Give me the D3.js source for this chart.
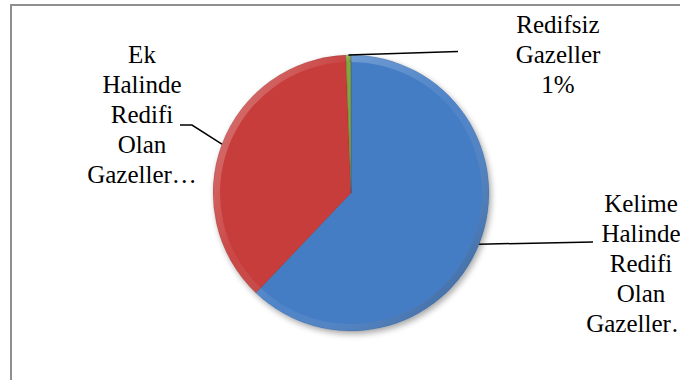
<!DOCTYPE html>
<html>
<head>
<meta charset="utf-8">
<script src="https://cdn.jsdelivr.net/npm/d3@7"></script>
<style>
  html, body { margin: 0; padding: 0; background: #fff; }
  svg { display: block; }
  svg text.lbl { font-family: "Liberation Serif", Tinos, "Times New Roman", serif !important; font-size: 25px; }
</style>
</head>
<body>
<svg id="chart" width="680" height="380"></svg>
<script>
// ---- data ----
const categories = ["Kelime Halinde Redifi Olan Gazeller", "Ek Halinde Redifi Olan Gazeller", "Redifsiz Gazeller"];
const values = [62.1, 37.3, 0.6];
const labelLines = [
  ["Kelime", "Halinde", "Redifi", "Olan", "Gazeller…"],
  ["Ek", "Halinde", "Redifi", "Olan", "Gazeller…"],
  ["Redifsiz", "Gazeller"]
];
const showPercent = [false, false, true];
const colors = ["#4a86d4", "#d6423f", "#8db33f"];

// ---- layout ----
const svg = d3.select("#chart");
const W = 680, H = 380;
const cx = 351, cy = 193, R = 138;
const lineH = 30;

svg.append("rect").attr("x", 11).attr("y", 5).attr("width", W + 20).attr("height", H + 20)
  .attr("fill", "#fff").attr("stroke", "#8f8f8f").attr("stroke-width", 2);

const defs = svg.append("defs");
const shadow = defs.append("filter").attr("id", "shadow").attr("x", "-20%").attr("y", "-20%").attr("width", "140%").attr("height", "140%");
shadow.append("feGaussianBlur").attr("in", "SourceAlpha").attr("stdDeviation", 3);
shadow.append("feOffset").attr("dx", 2).attr("dy", 3).attr("result", "ob");
shadow.append("feComponentTransfer").append("feFuncA").attr("type", "linear").attr("slope", 0.35);
const m = shadow.append("feMerge");
m.append("feMergeNode");
m.append("feMergeNode").attr("in", "SourceGraphic");

colors.forEach((c, i) => {
  const g = defs.append("radialGradient").attr("id", "g" + i)
    .attr("gradientUnits", "userSpaceOnUse").attr("cx", cx).attr("cy", cy).attr("r", R);
  const base = d3.color(c);
  g.append("stop").attr("offset", "0%").attr("stop-color", base.darker(0.1));
  g.append("stop").attr("offset", "85%").attr("stop-color", base);
  g.append("stop").attr("offset", "100%").attr("stop-color", base.darker(0.2));
});
const rim = defs.append("linearGradient").attr("id", "rim")
  .attr("x1", "0%").attr("y1", "0%").attr("x2", "100%").attr("y2", "100%");
rim.append("stop").attr("offset", "0%").attr("stop-color", "#fff").attr("stop-opacity", 0.35);
rim.append("stop").attr("offset", "50%").attr("stop-color", "#fff").attr("stop-opacity", 0.05);
rim.append("stop").attr("offset", "100%").attr("stop-color", "#000").attr("stop-opacity", 0.3);

const pie = d3.pie().sort(null).value(d => d).startAngle(0).endAngle(2 * Math.PI);
const arcs = pie(values);
const arc = d3.arc().innerRadius(0).outerRadius(R);
const rimArc = d3.arc().innerRadius(R - 7).outerRadius(R);

const g = svg.append("g").attr("transform", `translate(${cx},${cy})`);
g.append("g").attr("filter", "url(#shadow)")
  .selectAll("path").data(arcs).join("path")
  .attr("d", arc)
  .attr("fill", (d, i) => `url(#g${i})`);
g.selectAll("path.rim").data(arcs).join("path").attr("class", "rim")
  .attr("d", rimArc).attr("fill", "url(#rim)");
g.selectAll("path.sep").data(arcs).join("path").attr("class", "sep")
  .attr("d", arc).attr("fill", "none").attr("stroke", "rgba(0,0,0,0.15)").attr("stroke-width", 0.7);

// ---- labels ----
const pct = d3.format(".0%");
const total = d3.sum(values);
const labelPos = [
  { x: 641, y: 212, leader: [[593, 242]] },
  { x: 142, y: 63, leader: [[192, 125], [180, 125]] },
  { x: 558, y: 33, leader: [[458, 51.5]] }
];

arcs.forEach((a, i) => {
  const mid = (a.startAngle + a.endAngle) / 2;
  const p0 = [cx + R * Math.sin(mid), cy - R * Math.cos(mid)];
  const pts = [p0].concat(labelPos[i].leader);
  svg.append("path").attr("d", d3.line()(pts))
    .attr("fill", "none").attr("stroke", "#000").attr("stroke-width", 1.5);
  const lines = labelLines[i].slice();
  if (showPercent[i]) lines.push(pct(values[i] / total));
  svg.append("g").selectAll("text").data(lines).join("text")
    .attr("class", "lbl")
    .style("font-family", '"Liberation Serif"')
    .attr("x", labelPos[i].x)
    .attr("y", (s, j) => labelPos[i].y + j * lineH)
    .attr("fill", "#000").attr("text-anchor", "middle")
    .text(s => s);
});
</script>
</body>
</html>
